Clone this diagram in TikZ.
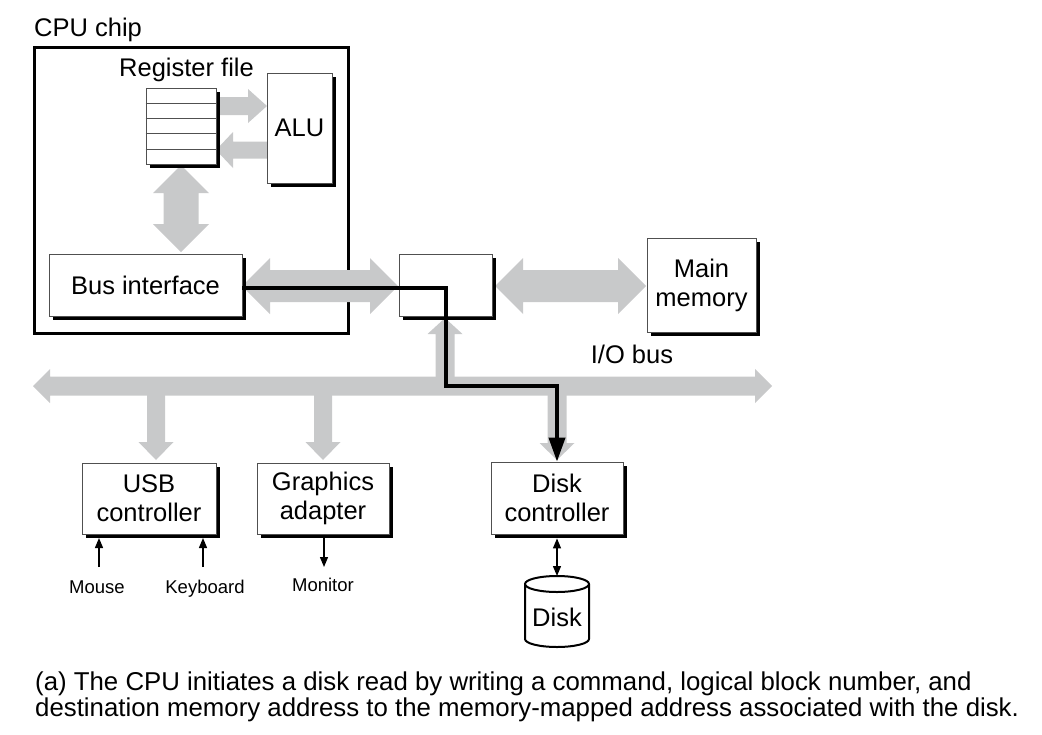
\documentclass[tikz,border=0pt]{standalone}
\usepackage{fontspec}
\setmainfont{Liberation Sans}
\usetikzlibrary{arrows.meta,shadows,calc}
\definecolor{busgray}{RGB}{200,201,202}
\definecolor{edgegray}{RGB}{80,80,80}
% fat gray arrows: horizontal double / single, vertical double / single
\newcommand\HDA[6]{\fill[busgray] (#1,#3) -- ({#1+#6},{#3-#5}) -- ({#1+#6},{#3-#4}) -- ({#2-#6},{#3-#4}) -- ({#2-#6},{#3-#5}) -- (#2,#3) -- ({#2-#6},{#3+#5}) -- ({#2-#6},{#3+#4}) -- ({#1+#6},{#3+#4}) -- ({#1+#6},{#3+#5}) -- cycle;}
\newcommand\HSA[6]{\fill[busgray] (#1,{#3-#4}) -- ({#2-(#6)},{#3-#4}) -- ({#2-(#6)},{#3-#5}) -- (#2,#3) -- ({#2-(#6)},{#3+#5}) -- ({#2-(#6)},{#3+#4}) -- (#1,{#3+#4}) -- cycle;}
\newcommand\VDA[6]{\fill[busgray] (#3,#1) -- ({#3-#5},{#1+#6}) -- ({#3-#4},{#1+#6}) -- ({#3-#4},{#2-#6}) -- ({#3-#5},{#2-#6}) -- (#3,#2) -- ({#3+#5},{#2-#6}) -- ({#3+#4},{#2-#6}) -- ({#3+#4},{#1+#6}) -- ({#3+#5},{#1+#6}) -- cycle;}
\newcommand\VSA[6]{\fill[busgray] ({#3-#4},#1) -- ({#3-#4},{#2-(#6)}) -- ({#3-#5},{#2-(#6)}) -- (#3,#2) -- ({#3+#5},{#2-(#6)}) -- ({#3+#4},{#2-(#6)}) -- ({#3+#4},#1) -- cycle;}
\begin{document}
\begin{tikzpicture}[x=1pt,y=-1pt,
  box/.style={draw=edgegray, line width=0.8pt, fill=white, inner sep=0pt, align=center,
    font=\fontsize{25.5}{29}\selectfont,
    drop shadow={shadow xshift=4pt,shadow yshift=-4pt,fill=black,opacity=1}},
  lbl/.style={font=\fontsize{25.5}{29}\selectfont, inner sep=0pt},
  smalllbl/.style={font=\fontsize{18.5}{22}\selectfont, inner sep=0pt},
  caplbl/.style={font=\fontsize{25.8}{27}\selectfont, inner sep=0pt},
  tarrow/.style={line width=1.3pt, -{Triangle[length=10pt,width=8pt]}},
  blackpath/.style={line width=3.8pt, -{Triangle[length=24pt,width=16pt]}}]
\useasboundingbox (0,0) rectangle (1042,734);

% CPU chip outline
\node[draw, line width=3pt, minimum width=314pt, minimum height=286pt, inner sep=0pt] (cpu) at (191,190) {};
\node[lbl, anchor=base west] (cpulbl) at (34,36) {CPU chip};

% gray buses
\HSA{216}{267}{106}{9}{17}{19}
\HSA{267}{216}{150}{8.5}{18}{-17}
\VDA{165}{252}{181}{17.5}{28}{28}
\HDA{242}{398}{286}{16}{28}{28}
\HDA{495}{646}{286}{16}{28}{28}
\HDA{33}{772}{386}{9.5}{17}{17}
\VSA{386}{318}{445}{9.5}{17.5}{-16}
\VSA{386}{460}{156}{9}{17.5}{18}
\VSA{386}{460}{323}{9}{17.5}{18}
\VSA{386}{460}{557}{9.5}{17.5}{17}

% boxes
\node[box, minimum width=70pt, minimum height=76pt] (reg) at (181,126) {};
\foreach \i in {1,...,4}
  \draw[edgegray, line width=0.8pt] ($(reg.north west)!\i/5!(reg.south west)$) -- ($(reg.north east)!\i/5!(reg.south east)$);
\node[lbl, anchor=base] (reglbl) at (186.5,76) {Register file};
\node[box, minimum width=65pt, minimum height=110pt] (alu) at (299.5,128) {ALU};
\node[box, minimum width=193pt, minimum height=62pt] (busif) at (145.5,285) {Bus interface};
\node[box, minimum width=93pt, minimum height=62pt] (bridge) at (445.5,285) {};
\node[box, minimum width=109pt, minimum height=94pt] (mem) at (701.5,285) {Main\\memory};
\node[lbl, anchor=base] (iolbl) at (632,363) {I/O bus};
\node[box, minimum width=134pt, minimum height=71pt] (usb) at (149,498.5) {USB\\controller};
\node[box, minimum width=132pt, minimum height=71pt] (gfx) at (323,498.5) {Graphics\\adapter};
\node[box, minimum width=132pt, minimum height=72pt] (dctl) at (557,498) {Disk\\controller};

% black command path
\coordinate (p1) at (446,288);
\coordinate (p2) at (446,386);
\coordinate (p3) at (557,386);
\draw[blackpath] ([yshift=-3pt]busif.east) -- (p1) -- (p2) -- (p3) -- (dctl.north);

% devices
\node[smalllbl, anchor=base] (mouse) at (97,593) {Mouse};
\node[smalllbl, anchor=base] (kbd) at (205,593) {Keyboard};
\node[smalllbl, anchor=base] (mon) at (323,591) {Monitor};
\coordinate (m0) at (99,567);
\coordinate (m1) at (99,538);
\coordinate (k0) at (203,567);
\coordinate (k1) at (203,538);
\coordinate (n0) at (324,538);
\coordinate (n1) at (324,567);
\draw[tarrow] (m0) -- (m1);
\draw[tarrow] (k0) -- (k1);
\draw[tarrow] (n0) -- (n1);

% disk
\draw[line width=2pt, fill=white] (525,584) -- (525,639) arc[start angle=180, end angle=0, x radius=32, y radius=8]
  -- (589,584) arc[start angle=0, end angle=-180, x radius=32, y radius=8] -- cycle;
\draw[line width=2pt] (525,584) arc[start angle=180, end angle=0, x radius=32, y radius=8];
\node[lbl] (disk) at (557,617) {Disk};
\coordinate (disktop) at (557,576);
\draw[line width=1.3pt, {Triangle[length=10pt,width=8pt]}-{Triangle[length=10pt,width=8pt]}] ([yshift=-4pt]dctl.south) -- (disktop);

% caption
\node[caplbl, anchor=base west] (cap1) at (35,690) {(a) The CPU initiates a disk read by writing a command, logical block number, and};
\node[caplbl, anchor=base west] (cap2) at (35,716) {destination memory address to the memory-mapped address associated with the disk.};
\end{tikzpicture}
\end{document}
